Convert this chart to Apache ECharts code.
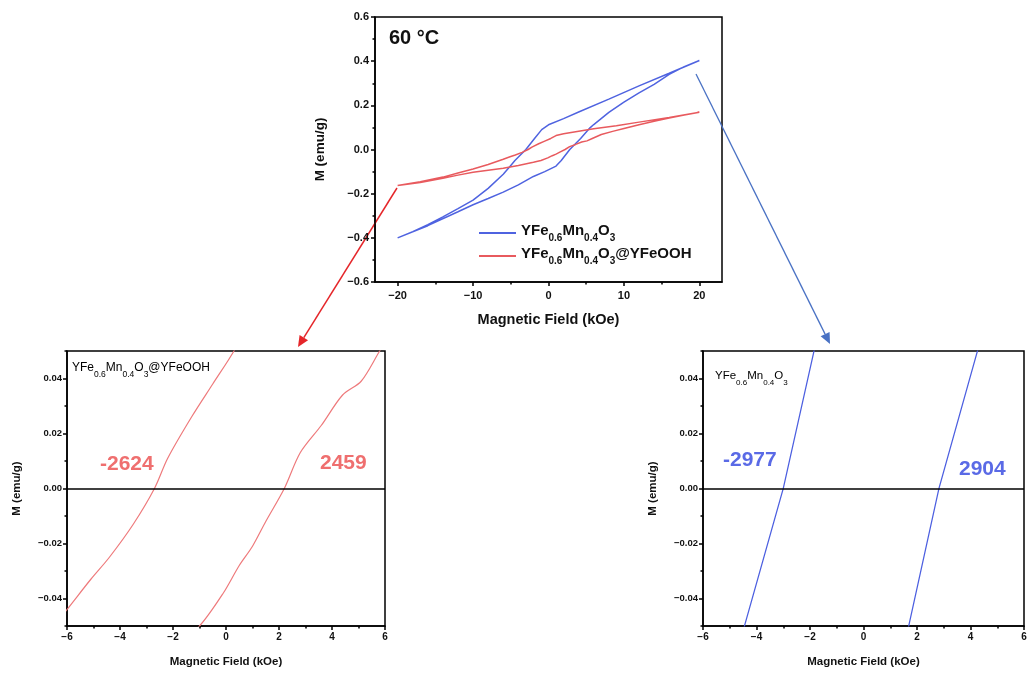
<!DOCTYPE html>
<html><head><meta charset="utf-8">
<script src="https://cdn.jsdelivr.net/npm/echarts@6/dist/echarts.min.js"></script>
<style>html,body{margin:0;padding:0;background:#fff}#c{width:1033px;height:675px}</style>
</head><body><div id="c"></div>
<script>
// ---- data (kOe, emu/g) ----
const blueDescH = [20, 16, 12, 8, 4, 2, 0, -0.9, -1.85, -3.0, -4.45, -5, -6, -8, -10, -12, -14, -16, -18, -20];
const blueDescM = [0.403, 0.345, 0.288, 0.228, 0.170, 0.140, 0.112, 0.090, 0.050, 0.000, -0.050, -0.072, -0.112, -0.176, -0.229, -0.268, -0.305, -0.340, -0.372, -0.400];
const blueAscH = [-20, -16, -12, -10, -8, -6, -4, -2, -0.5, 1, 1.69, 2.82, 4.26, 5.5, 6, 8, 10, 12, 14, 16, 18, 20];
const blueAscM = [-0.400, -0.345, -0.282, -0.250, -0.222, -0.193, -0.160, -0.122, -0.100, -0.075, -0.050, 0.000, 0.050, 0.098, 0.113, 0.168, 0.215, 0.256, 0.295, 0.340, 0.375, 0.403];
const redDescH = [20, 16, 12, 9, 6, 4, 2, 1, 0.3, -0.5, -1.3, -2.2, -2.7, -3.5, -4.4, -5.1, -6, -8, -10, -12, -14, -17, -20];
const redDescM = [0.169, 0.145, 0.124, 0.108, 0.094, 0.083, 0.071, 0.063, 0.050, 0.038, 0.026, 0.011, 0.000, -0.013, -0.025, -0.033, -0.044, -0.068, -0.088, -0.106, -0.125, -0.146, -0.163];
const redAscH = [-20, -17, -14, -12, -10, -8, -6, -4, -2, -1, -0.1, 0.5, 1, 1.5, 2.2, 2.8, 3.6, 4.4, 5.1, 5.8, 7, 8.5, 10, 12, 14, 16, 18, 20];
const redAscM = [-0.163, -0.150, -0.130, -0.116, -0.103, -0.094, -0.085, -0.072, -0.058, -0.050, -0.038, -0.028, -0.021, -0.012, 0.000, 0.013, 0.023, 0.034, 0.039, 0.050, 0.068, 0.082, 0.095, 0.112, 0.128, 0.143, 0.156, 0.169];

const topXTicks = [-20, -10, 0, 10, 20];
const topXMinor = [-15, -5, 5, 15];
const zoomYTicks = [-0.04, -0.02, 0, 0.02, 0.04];
const zoomYMinor = [-0.05, -0.03, -0.01, 0.01, 0.03, 0.05];

const nameBlue = 'YFe0.6Mn0.4O3';
const nameRed = 'YFe0.6Mn0.4O3@YFeOOH';
const coercive = [{t: '-2624', c: '#ef6f6f'}, {t: '2459', c: '#ef6f6f'}, {t: '-2977', c: '#5a6ae6'}, {t: '2904', c: '#5a6ae6'}];
const tempLabel = '60 °C';

function loop(h1, m1, h2, m2) {
  const out = [];
  h1.forEach((h, i) => out.push([h, m1[i]]));
  h2.forEach((h, i) => out.push([h, m2[i]]));
  return out;
}
const blueLoop = loop(blueDescH, blueDescM, blueAscH, blueAscM);
const redLoop = loop(redDescH, redDescM, redAscH, redAscM);

const FONT = '"Liberation Sans", Arial, sans-serif';
const minus = s => String(s).replace('-', '\u2212');

function richName(name) {
  const parts = name.match(/(YFe)(0\.6)(Mn)(0\.4)(O)(3)(.*)/);
  let s = '{n|' + parts[1] + '}{s|' + parts[2] + '}{n|' + parts[3] + '}{s|' + parts[4] + '}{n|' + parts[5] + '}{s|' + parts[6] + '}';
  if (parts[7]) s += '{n|' + parts[7] + '}';
  return s;
}
function richStyle(size, sub, weight, color) {
  return {
    n: {fontSize: size, fontWeight: weight, fontFamily: FONT, color: color, lineHeight: size + 5, verticalAlign: 'top'},
    s: {fontSize: sub, fontWeight: weight, fontFamily: FONT, color: color, lineHeight: sub, verticalAlign: 'bottom'}
  };
}

const axisLine = {show: true, onZero: false, lineStyle: {color: '#000', width: 1.5}};
const tickStyle = {color: '#000', width: 1.5};

const chart = echarts.init(document.getElementById('c'), null, {renderer: 'canvas'});

const grids = [
  {left: 375, top: 17, width: 347, height: 265},
  {left: 67, top: 351, width: 318, height: 275},
  {left: 703, top: 351, width: 321, height: 275}
];

function zoomX(gi) {
  return {
    type: 'value', gridIndex: gi, min: -6, max: 6, interval: 2,
    axisLine: axisLine, splitLine: {show: false},
    axisTick: {show: true, inside: false, length: 4, lineStyle: tickStyle},
    minorTick: {show: true, splitNumber: 2, length: 2.5, lineStyle: tickStyle},
    axisLabel: {margin: 6, fontSize: 10, fontWeight: 'bold', fontFamily: FONT, color: '#111', formatter: v => minus(v)},
    name: 'Magnetic Field (kOe)', nameLocation: 'middle', nameGap: 30,
    nameTextStyle: {fontSize: 11.5, fontWeight: 'bold', fontFamily: FONT, color: '#111'}
  };
}
function zoomY(gi) {
  return {
    type: 'value', gridIndex: gi, min: -0.05, max: 0.05,
    axisLine: axisLine, splitLine: {show: false},
    axisTick: {show: true, length: 4, lineStyle: tickStyle, customValues: zoomYTicks},
    axisLabel: {margin: 5, fontSize: 9.5, fontWeight: 'bold', fontFamily: FONT, color: '#111', customValues: zoomYTicks,
      formatter: v => minus(v.toFixed(2))},
    name: 'M (emu/g)', nameLocation: 'middle', nameGap: 44,
    nameTextStyle: {fontSize: 11.5, fontWeight: 'bold', fontFamily: FONT, color: '#111'}
  };
}
function zoomYMinorAxis(gi) {
  return {
    type: 'value', gridIndex: gi, min: -0.05, max: 0.05, position: 'left',
    axisLine: {show: false, onZero: false}, splitLine: {show: false},
    axisTick: {show: true, length: 2.5, lineStyle: tickStyle, customValues: zoomYMinor},
    axisLabel: {show: false}
  };
}

const option = {
  animation: false,
  backgroundColor: '#fff',
  grid: grids.map(g => Object.assign({show: true, borderColor: '#000', borderWidth: 1.5, backgroundColor: 'transparent'}, g)),
  xAxis: [
    {
      type: 'value', gridIndex: 0, min: -23, max: 23,
      axisLine: axisLine, splitLine: {show: false},
      axisTick: {show: true, length: 4, lineStyle: tickStyle, customValues: topXTicks},
      axisLabel: {margin: 8, fontSize: 11, fontWeight: 'bold', fontFamily: FONT, color: '#111', customValues: topXTicks, formatter: v => minus(v)},
      name: 'Magnetic Field (kOe)', nameLocation: 'middle', nameGap: 30,
      nameTextStyle: {fontSize: 14.5, fontWeight: 'bold', fontFamily: FONT, color: '#111'}
    },
    {
      type: 'value', gridIndex: 0, min: -23, max: 23, position: 'bottom',
      axisLine: {show: false, onZero: false}, splitLine: {show: false},
      axisTick: {show: true, length: 2.5, lineStyle: tickStyle, customValues: topXMinor},
      axisLabel: {show: false}
    },
    zoomX(1),
    zoomX(2)
  ],
  yAxis: [
    {
      type: 'value', gridIndex: 0, min: -0.6, max: 0.6, interval: 0.2,
      axisLine: axisLine, splitLine: {show: false},
      axisTick: {show: true, length: 4, lineStyle: tickStyle},
      minorTick: {show: true, splitNumber: 2, length: 2.5, lineStyle: tickStyle},
      axisLabel: {margin: 6, fontSize: 11, fontWeight: 'bold', fontFamily: FONT, color: '#111', formatter: v => minus(v.toFixed(1))},
      name: 'M (emu/g)', nameLocation: 'middle', nameGap: 48,
      nameTextStyle: {fontSize: 13.5, fontWeight: 'bold', fontFamily: FONT, color: '#111'}
    },
    zoomY(1), zoomYMinorAxis(1),
    zoomY(2), zoomYMinorAxis(2)
  ],
  legend: {
    data: [nameBlue, nameRed],
    orient: 'vertical', left: 474, top: 218, itemWidth: 37, itemHeight: 2, itemGap: 3,
    icon: 'rect',
    selectedMode: false,
    formatter: n => richName(n),
    textStyle: {rich: richStyle(15, 10, 'bold', '#111')}
  },
  series: [
    {name: nameBlue, type: 'line', xAxisIndex: 0, yAxisIndex: 0, data: blueLoop, symbol: 'none', smooth: false,
      lineStyle: {color: '#4f63e0', width: 1.5}, itemStyle: {color: '#4f63e0'}},
    {name: nameRed, type: 'line', xAxisIndex: 0, yAxisIndex: 0, data: redLoop, symbol: 'none',
      lineStyle: {color: '#e85a5e', width: 1.5}, itemStyle: {color: '#e85a5e'}},
    {name: 'zoomRed', type: 'line', xAxisIndex: 2, yAxisIndex: 1, data: redLoop, symbol: 'none', smooth: 0.3,
      lineStyle: {color: '#ee7a7c', width: 1.2},
      markLine: {silent: true, symbol: 'none', label: {show: false}, lineStyle: {color: '#000', width: 1.5, type: 'solid'}, data: [{yAxis: 0}]}},
    {name: 'zoomBlue', type: 'line', xAxisIndex: 3, yAxisIndex: 3, data: blueLoop, symbol: 'none',
      lineStyle: {color: '#4c5fe0', width: 1.2},
      markLine: {silent: true, symbol: 'none', label: {show: false}, lineStyle: {color: '#000', width: 1.5, type: 'solid'}, data: [{yAxis: 0}]}}
  ]
};
chart.setOption(option);

// annotations
function arrow(x1, y1, x2, y2, color, w) {
  const ang = Math.atan2(y2 - y1, x2 - x1);
  const L = 11, W = 5;
  const bx = x2 - L * Math.cos(ang), by = y2 - L * Math.sin(ang);
  const px = -Math.sin(ang) * W, py = Math.cos(ang) * W;
  return [
    {type: 'line', shape: {x1: x1, y1: y1, x2: bx, y2: by}, style: {stroke: color, lineWidth: w}, silent: true},
    {type: 'polygon', shape: {points: [[x2, y2], [bx + px, by + py], [bx - px, by - py]]}, style: {fill: color}, silent: true}
  ];
}
const graphics = [].concat(
  arrow(397, 188, 298, 347, '#e5262a', 1.5),
  arrow(696, 74, 830, 344, '#4a72c4', 1.3),
  [
    {type: 'text', left: 389, top: 28, style: {text: tempLabel, font: 'bold 20px ' + FONT, fill: '#111'}},
    {type: 'text', left: 72, top: 362, style: {text: richName(nameRed), rich: richStyle(12, 8.5, 'normal', '#ef7070')}},
    {type: 'text', left: 715, top: 370, style: {text: richName(nameBlue), rich: richStyle(11.5, 8, 'normal', '#3b45d6')}},
    {type: 'text', left: 100, top: 454, style: {text: coercive[0].t, font: 'bold 21px ' + FONT, fill: coercive[0].c}},
    {type: 'text', left: 320, top: 453, style: {text: coercive[1].t, font: 'bold 21px ' + FONT, fill: coercive[1].c}},
    {type: 'text', left: 723, top: 450, style: {text: coercive[2].t, font: 'bold 21px ' + FONT, fill: coercive[2].c}},
    {type: 'text', left: 959, top: 459, style: {text: coercive[3].t, font: 'bold 21px ' + FONT, fill: coercive[3].c}}
  ]
);
chart.setOption({graphic: graphics});
</script>
</body></html>
